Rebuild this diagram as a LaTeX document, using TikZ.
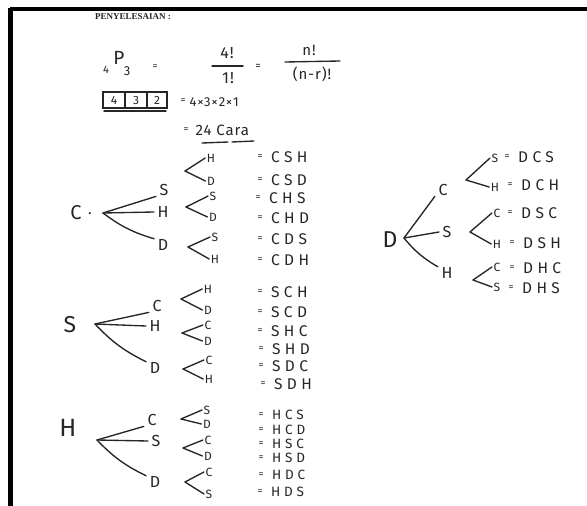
\documentclass[tikz,border=0pt]{standalone}
\usepackage{fontspec}
\setmainfont{Liberation Serif}
\newfontfamily\hand{Fira Sans}[LetterSpace=6]
\newfontfamily\handw{Fira Sans}[LetterSpace=28]
\definecolor{ink}{HTML}{262626}

% one "<" fork: #1 name, (#2,#3) vertex, #4 label x, #5/#6 upper label and y, #7/#8 lower label and y
\newcommand\gpair[8]{%
  \coordinate (#1v) at (#2,#3);
  \node[leaf] (#1a) at (#4,#6) {#5};
  \node[leaf] (#1b) at (#4,#8) {#7};
  \draw[branch] (#1v) -- ([xshift=-1pt]#1a.west);
  \draw[branch] (#1v) -- ([xshift=-1pt]#1b.west);
}
% one result line: #1 name, #2 x of the sign, #3 y, #4 word
\newcommand\resrow[4]{%
  \node[eqs] (#1e) at (#2,#3) {=};
  \node[res] (#1) at (#2+11,#3) {#4};
}

\begin{document}
\begin{tikzpicture}[x=1pt,y=-1pt,
  hw/.style={inner sep=0.5pt, text=ink, font=\hand\fontsize{15}{15}\selectfont},
  rootl/.style={hw, font=\hand\fontsize{20}{20}\selectfont},
  kid/.style={hw, font=\hand\fontsize{16}{16}\selectfont},
  leaf/.style={hw, font=\hand\fontsize{12}{12}\selectfont},
  res/.style={hw, inner sep=0pt, anchor=west, font=\handw\fontsize{15.5}{15.5}\selectfont},
  smallres/.style={res/.append style={font=\handw\fontsize{13.5}{13.5}\selectfont}},
  eqs/.style={hw, font=\hand\fontsize{10}{10}\selectfont},
  branch/.style={draw=ink, line width=1.35pt, line cap=round},
  frame/.style={draw=black, line width=3.2pt}]
\useasboundingbox (0,0) rectangle (587,506);
\fill[white] (0,0) rectangle (587,506);

% page frame
\draw[frame] (10,9) -- (587,9);
\fill[black] (8,8) rectangle (12.5,506);

% heading
\node[anchor=west, inner sep=0, text=black!85,
      font=\bfseries\fontsize{9}{9}\selectfont] (head) at (95,17) {PENYELESAIAN :};

% permutation formula
\node[hw, font=\hand\fontsize{11}{11}\selectfont] (pn) at (106,70) {4};
\node[hw, font=\hand\fontsize{19}{19}\selectfont] (pP) at (119,58) {P};
\node[hw, font=\hand\fontsize{13}{13}\selectfont] (pr) at (127,71) {3};
\node[eqs] (eq1) at (155,67) {=};
\node[hw, font=\hand\fontsize{16}{16}\selectfont] (f1n) at (227,53) {4!};
\draw[branch] (212,66) -- (243,66);
\node[hw, font=\hand\fontsize{16}{16}\selectfont] (f1d) at (228,78) {1!};
\node[eqs, font=\hand\fontsize{11}{11}\selectfont] (eq2) at (258,67) {=};
\node[hw] (f2n) at (309,50) {n!};
\draw[branch] (285,62) -- (340,61);
\node[hw] (f2d) at (312,74) {(n-r)!};

% filling the three places
\draw[branch] (103,92) rectangle (167,108);
\draw[branch] (125,92) -- (125,108);
\draw[branch] (147,92) -- (147,108);
\draw[branch] (104,111) -- (166,111);
\node[leaf] (b1) at (114,100) {4};
\node[leaf] (b2) at (136,100) {3};
\node[leaf] (b3) at (157,100) {2};
\node[eqs] (eq3) at (183,101) {=};
\node[hw, anchor=west, font=\hand\fontsize{13}{13}\selectfont] (prod) at (189,102) {4×3×2×1};
\node[eqs] (eq4) at (186,130) {=};
\node[hw, anchor=west] (cara) at (195,130) {24 Cara};
\draw[branch] (202,143) -- (228,142);
\draw[branch] (232,142) -- (254,141);

% ---------- tree C ----------
\node[rootl] (C) at (76,213) {C};
\node[hw] (Cdot) at (90,214) {.};
\coordinate (Cr) at (103,213);
\node[kid] (CS) at (164,190) {S};
\node[kid] (CH) at (163,212) {H};
\node[kid] (CD) at (163,245) {D};
\draw[branch] (Cr) -- ([xshift=-3pt]CS.south west);
\draw[branch] (Cr) -- ([xshift=-3pt]CH.west);
\draw[branch] (Cr) to[bend right=10] ([xshift=-3pt]CD.north west);
\gpair{CSp}{185}{171}{211}{H}{158}{D}{181}
\gpair{CHp}{186}{207}{213}{S}{196}{D}{217}
\gpair{CDp}{188}{247}{215}{S}{237}{H}{259}
\resrow{rCSH}{260}{157}{CSH}
\resrow{rCSD}{260}{180}{CSD}
\resrow{rCHS}{258}{198}{CHS}
\resrow{rCHD}{260}{218}{CHD}
\resrow{rCDS}{260}{239}{CDS}
\resrow{rCDH}{260}{260}{CDH}

% ---------- tree S ----------
\node[rootl, font=\hand\fontsize{23}{23}\selectfont] (S) at (70,325) {S};
\coordinate (Sr) at (95,324);
\node[kid] (SC) at (157,306) {C};
\node[kid] (SH) at (155,326) {H};
\node[kid] (SD) at (155,368) {D};
\draw[branch] (Sr) -- ([xshift=-3pt]SC.south west);
\draw[branch] (Sr) -- ([xshift=-3pt]SH.west);
\draw[branch] (Sr) to[bend right=10] ([xshift=-3pt]SD.north west);
\gpair{SCp}{181}{299}{208}{H}{289}{D}{310}
\gpair{SHp}{182}{333}{208}{C}{325}{D}{341}
\gpair{SDp}{183}{369}{209}{C}{360}{H}{379}
\resrow{rSCH}{260}{292}{SCH}
\resrow{rSCD}{260}{312}{SCD}
\resrow{rSHC}{260}{331}{SHC}
\resrow{rSHD}{261}{349}{SHD}
\resrow{rSDC}{261}{366}{SDC}
\resrow{rSDH}{263}{384}{SDH}

% ---------- tree H ----------
\node[rootl, font=\hand\fontsize{25}{25}\selectfont] (H) at (68,428) {H};
\coordinate (Hr) at (97,440);
\node[kid] (HC) at (152,420) {C};
\node[kid] (HS) at (156,441) {S};
\node[kid] (HD) at (155,482) {D};
\draw[branch] (Hr) -- ([xshift=-3pt]HC.south west);
\draw[branch] (Hr) -- ([xshift=-3pt]HS.west);
\draw[branch] (Hr) to[bend right=10] ([xshift=-3pt]HD.north west);
\gpair{HCp}{181}{419}{207}{S}{410}{D}{424}
\gpair{HSp}{183}{448}{208}{C}{440}{D}{456}
\gpair{HDp}{185}{482}{209}{C}{472}{S}{494}
\begin{scope}[smallres]
\resrow{rHCS}{261}{415}{HCS}
\resrow{rHCD}{261}{430}{HCD}
\resrow{rHSC}{261}{444}{HSC}
\resrow{rHSD}{261}{458}{HSD}
\resrow{rHDC}{261}{475}{HDC}
\resrow{rHDS}{260}{492}{HDS}
\end{scope}

% ---------- tree D ----------
\node[rootl, font=\hand\fontsize{23}{23}\selectfont] (D) at (390,240) {D};
\coordinate (Dr) at (404,238);
\node[kid] (DC) at (443,190) {C};
\node[kid] (DS) at (447,232) {S};
\node[kid] (DH) at (447,273) {H};
\draw[branch] (Dr) -- ([xshift=-3pt]DC.south west);
\draw[branch] (Dr) -- ([xshift=-3pt]DS.west);
\draw[branch] (Dr) to[bend right=10] ([xshift=-3pt]DH.north west);
\gpair{DCp}{466}{180}{495}{S}{158}{H}{187}
\gpair{DSp}{470}{232}{497}{C}{213}{H}{244}
\gpair{DHp}{473}{280}{497}{C}{267}{S}{287}
\resrow{rDCS}{507}{157}{DCS}
\resrow{rDCH}{510}{185}{DCH}
\resrow{rDSC}{510}{213}{DSC}
\resrow{rDSH}{512}{243}{DSH}
\resrow{rDHC}{512}{268}{DHC}
\resrow{rDHS}{511}{288}{DHS}
\end{tikzpicture}
\end{document}
